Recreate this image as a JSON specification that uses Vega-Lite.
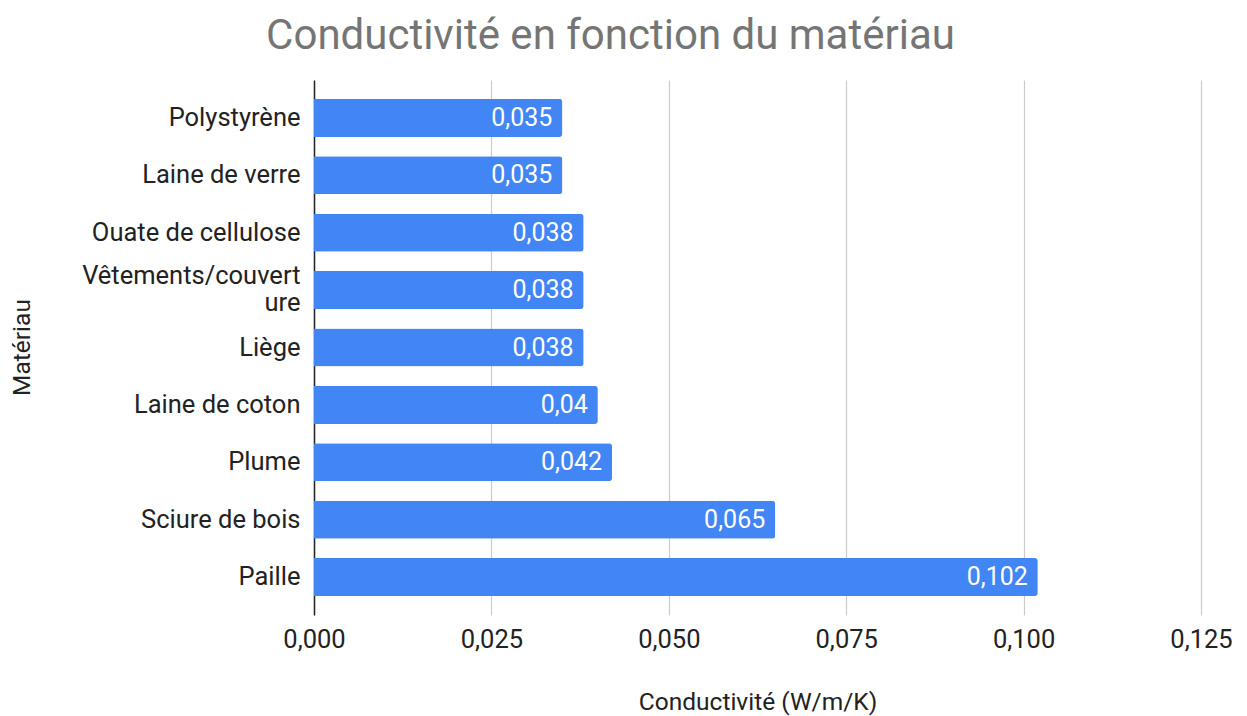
{
  "$schema": "https://vega.github.io/schema/vega-lite/v6.json",
  "width": 887,
  "height": 535,
  "autosize": {"type": "none"},
  "padding": {"left": 314, "top": 80, "right": 46, "bottom": 101},
  "background": "white",
  "title": {
    "text": "Conductivité en fonction du matériau",
    "font": "Roboto",
    "fontSize": 42,
    "fontWeight": "normal",
    "color": "#757575",
    "anchor": "middle",
    "dx": -147,
    "offset": 22
  },
  "data": {
    "values": [
      {"materiau": "Polystyrène", "conductivite": 0.035},
      {"materiau": "Laine de verre", "conductivite": 0.035},
      {"materiau": "Ouate de cellulose", "conductivite": 0.038},
      {"materiau": "Vêtements/couverture", "conductivite": 0.038},
      {"materiau": "Liège", "conductivite": 0.038},
      {"materiau": "Laine de coton", "conductivite": 0.04},
      {"materiau": "Plume", "conductivite": 0.042},
      {"materiau": "Sciure de bois", "conductivite": 0.065},
      {"materiau": "Paille", "conductivite": 0.102}
    ]
  },
  "encoding": {
    "y": {
      "field": "materiau",
      "type": "nominal",
      "sort": null,
      "scale": {"paddingInner": 0.338, "paddingOuter": 0.33},
      "axis": {
        "title": "Matériau",
        "titleX": -292,
        "titleY": 267,
        "titleAngle": -90,
        "titleBaseline": "middle",
        "titleAlign": "center",
        "labelPadding": 14,
        "labelLimit": 300,
        "labelFontSize": 25.5,
        "labelExpr": "datum.value == 'Vêtements/couverture' ? ['Vêtements/couvert', 'ure'] : datum.value",
        "labelLineHeight": 27,
        "labelOffset": {
          "condition": {"test": "datum.value == 'Vêtements/couverture'", "value": -14},
          "value": 0
        },
        "domainColor": "#222222",
        "domainWidth": 1.5,
        "ticks": false,
        "grid": false
      }
    },
    "x": {
      "field": "conductivite",
      "type": "quantitative",
      "scale": {"domain": [0, 0.125], "nice": false},
      "axis": {
        "title": "Conductivité (W/m/K)",
        "values": [0, 0.025, 0.05, 0.075, 0.1, 0.125],
        "format": ".3f",
        "labelFlush": false,
        "labelOverlap": false,
        "labelFontSize": 25.5,
        "domain": false,
        "ticks": false,
        "grid": true,
        "gridColor": "#cccccc",
        "gridWidth": 1.2,
        "labelPadding": 12,
        "titlePadding": 38
      }
    }
  },
  "layer": [
    {
      "mark": {"type": "bar", "color": "#4285F4", "cornerRadiusEnd": 3}
    },
    {
      "mark": {
        "type": "text",
        "align": "right",
        "baseline": "middle",
        "dx": -10,
        "color": "white",
        "font": "Roboto",
        "fontSize": 25
      },
      "encoding": {
        "text": {"field": "conductivite", "type": "quantitative", "format": ".3~f"}
      }
    }
  ],
  "config": {
    "locale": {
      "number": {
        "decimal": ",",
        "thousands": " ",
        "grouping": [3],
        "currency": ["", " €"]
      }
    },
    "view": {"stroke": null},
    "axis": {
      "labelFont": "Roboto",
      "labelColor": "#222222",
      "titleFont": "Roboto",
      "titleFontSize": 24.5,
      "titleFontWeight": "normal",
      "titleColor": "#222222"
    }
  }
}
